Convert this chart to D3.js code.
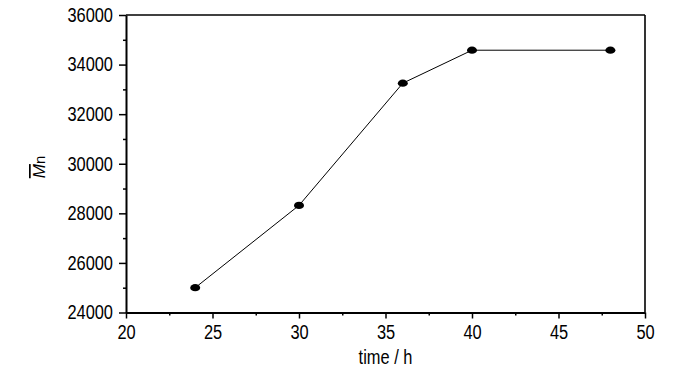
<!DOCTYPE html>
<html><head><meta charset="utf-8">
<script src="https://cdn.jsdelivr.net/npm/d3@7"></script>
<style>
body{margin:0;background:#fff;}
text{font-family:"Liberation Sans",Arial,Helvetica,sans-serif;}
</style></head>
<body><svg id="c" width="700" height="373"></svg>
<script>
const timeH = [24, 30, 36, 40, 48];
const mnValues = [25000, 28320, 33250, 34580, 34580];
const xTicks = [20, 25, 30, 35, 40, 45, 50];
const yTicks = [24000, 26000, 28000, 30000, 32000, 34000, 36000];
const xMinor = [22.5, 27.5, 32.5, 37.5, 42.5, 47.5];
const yMinor = [25000, 27000, 29000, 31000, 33000, 35000];

const L = 126, R = 645, T = 15, B = 312.5;
const svg = d3.select("#c");
const x = d3.scaleLinear().domain([20, 50]).range([L, R]);
const y = d3.scaleLinear().domain([24000, 36000]).range([B, T]);
const SX = 0.82;

function condense(sel){
  sel.selectAll("text").each(function(){
    const w = this.getComputedTextLength();
    d3.select(this).attr("textLength", w*SX).attr("lengthAdjust","spacingAndGlyphs");
  });
}

// frame top/right
svg.append("line").attr("x1",L).attr("x2",R).attr("y1",T).attr("y2",T).attr("stroke","#000").attr("stroke-width",1.6);
svg.append("line").attr("x1",R).attr("x2",R).attr("y1",T).attr("y2",B).attr("stroke","#000").attr("stroke-width",1.6);

// minor ticks
svg.append("g").attr("transform",`translate(0,${B})`)
  .call(d3.axisBottom(x).tickValues(xMinor).tickSize(3).tickFormat(""))
  .call(g=>g.select(".domain").remove())
  .selectAll("line").attr("stroke-width",1.5);
svg.append("g").attr("transform",`translate(${L},0)`)
  .call(d3.axisLeft(y).tickValues(yMinor).tickSize(3).tickFormat(""))
  .call(g=>g.select(".domain").remove())
  .selectAll("line").attr("stroke-width",1.5);

// major axes
const gx = svg.append("g").attr("transform",`translate(0,${B})`)
  .call(d3.axisBottom(x).tickValues(xTicks).tickSize(6).tickPadding(6.5).tickSizeOuter(0).tickFormat(d3.format("d")));
gx.select(".domain").attr("stroke-width",2);
gx.selectAll("line").attr("stroke-width",1.5);
gx.selectAll("text").attr("font-size",20).attr("fill","#000").style("font-family",'"Liberation Sans",Arial,sans-serif');
condense(gx);

const gy = svg.append("g").attr("transform",`translate(${L},0)`)
  .call(d3.axisLeft(y).tickValues(yTicks).tickSize(7).tickPadding(6).tickSizeOuter(0).tickFormat(d3.format("d")));
gy.select(".domain").attr("stroke-width",2);
gy.selectAll("line").attr("stroke-width",1.5);
gy.selectAll("text").attr("font-size",20).attr("fill","#000").style("font-family",'"Liberation Sans",Arial,sans-serif');
condense(gy);

// line
const data = timeH.map((t,i)=>({t, v: mnValues[i]}));
svg.append("path").datum(data)
  .attr("fill","none").attr("stroke","#000").attr("stroke-width",1)
  .attr("d", d3.line().x(d=>x(d.t)).y(d=>y(d.v)));
svg.append("g").selectAll("ellipse").data(data).join("ellipse")
  .attr("cx",d=>x(d.t)).attr("cy",d=>y(d.v)).attr("rx",5).attr("ry",3.6).attr("fill","#000");

// axis titles
const xl = svg.append("text").attr("x",(L+R)/2).attr("y",364).attr("text-anchor","middle")
  .attr("font-size",20).attr("fill","#000").text("time / h");
{ const w = xl.node().getComputedTextLength(); xl.attr("textLength", w*SX).attr("lengthAdjust","spacingAndGlyphs"); }

const yl = svg.append("text").attr("transform","translate(45,167) rotate(-90)")
  .attr("text-anchor","middle").attr("fill","#000").attr("font-size",17);
yl.append("tspan").attr("font-style","italic").style("text-decoration","overline").text("M");
yl.append("tspan").attr("font-size",15).text("n");
</script>
</body></html>
